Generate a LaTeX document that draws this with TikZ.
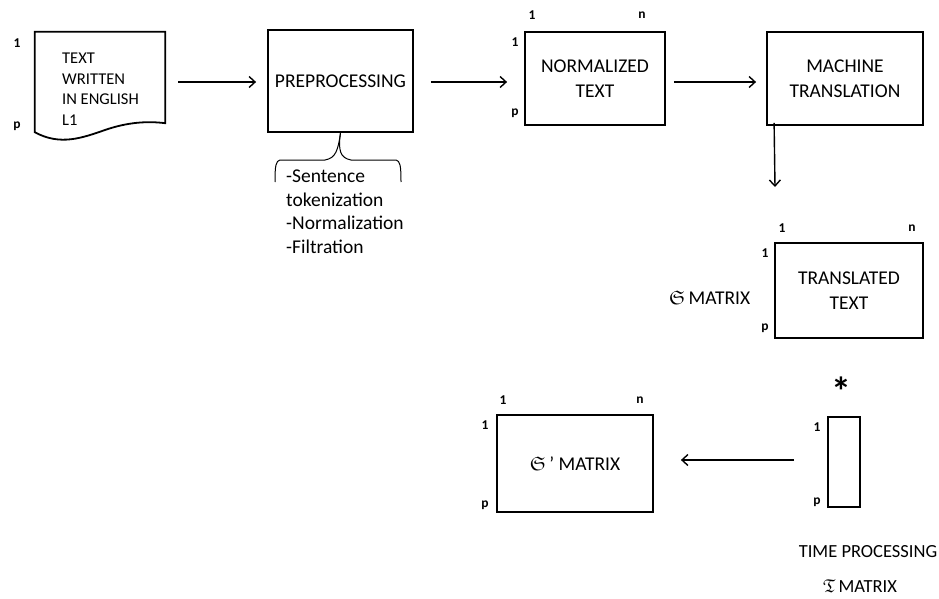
\documentclass[tikz,border=0pt]{standalone}
\usepackage{amssymb}
\usepackage{fontspec}
\setmainfont{Carlito}
\usetikzlibrary{arrows.meta}
\begin{document}
\begin{tikzpicture}[x=1pt,y=-1pt,
  box/.style={draw, line width=1.8pt, inner sep=0pt, align=center},
  arr/.style={-{Straight Barb[length=6pt,width=11pt,line width=1.4pt]}, line width=1.4pt},
  lbl/.style={font=\fontsize{13.5}{15}\bfseries\selectfont, inner sep=0pt},
  txt/.style={font=\fontsize{19.5}{25}\selectfont, inner sep=0pt, align=center}]
\useasboundingbox (0,0) rectangle (939,599);

% document shape
\node[minimum width=130pt, minimum height=108pt, inner sep=0pt] (doc) at (100,86) {};
\draw[line width=1.8pt] (doc.north west) -- (doc.north east) -- ([yshift=17pt]doc.south east)
  .. controls (148,121) and (128,122) .. (105,130)
  .. controls (82,138) and (60,146) .. ([yshift=8pt]doc.south west) -- cycle;
\node[txt, align=left, anchor=west, font=\fontsize{16.5}{20.5}\selectfont] (doctxt) at (62,89) {TEXT\\WRITTEN\\IN ENGLISH\\L1};
\node[lbl] (d1) at (17,43) {1};
\node[lbl] (dp) at (17,126) {p};

% preprocessing
\node[box, minimum width=145pt, minimum height=102pt, txt] (prep) at (340.5,81) {PREPROCESSING};
\draw[line width=1pt] (prep.south) .. controls (338,150) and (336,158) .. (325,160)
  -- (280,160) .. controls (276,161) and (275,165) .. (275,182);
\draw[line width=1pt] (prep.south) .. controls (338,150) and (340,158) .. (351,160)
  -- (396,160) .. controls (400,161) and (401,165) .. (401,182);
\node[txt, align=left, anchor=north west, font=\fontsize{19.5}{23.5}\selectfont] (list) at (286,170) {-Sentence\\tokenization\\-Normalization\\-Filtration};

% normalized text
\node[box, minimum width=140pt, minimum height=93pt, txt] (norm) at (595,78.5) {NORMALIZED\\TEXT};
\node[lbl] (n1) at (532,15) {1};
\node[lbl] (nn) at (642,15) {n};
\node[lbl] (nr1) at (515,42) {1};
\node[lbl] (nrp) at (515,113) {p};

% machine translation
\node[box, minimum width=156pt, minimum height=93pt, txt] (mt) at (845,78.5) {MACHINE\\TRANSLATION};

% translated text
\node[box, minimum width=148pt, minimum height=95pt, txt] (tt) at (849,290.5) {TRANSLATED\\TEXT};
\node[lbl] (t1) at (782,228) {1};
\node[lbl] (tn) at (912,228) {n};
\node[lbl] (tr1) at (765,253) {1};
\node[lbl] (trp) at (765,328) {p};
\node[txt, anchor=west] (smat) at (669,298) {$\mathfrak{S}$\,MATRIX};

% star and thin box
\node[inner sep=0pt, font=\fontsize{40}{40}\bfseries\selectfont] (star) at (841,391) {*};
\node[box, minimum width=32pt, minimum height=90pt] (tb) at (844,462) {};
\node[lbl] (tb1) at (817,427) {1};
\node[lbl] (tbp) at (817,502) {p};
\node[txt, font=\fontsize{18.5}{22}\selectfont] (tp) at (868,552) {TIME PROCESSING};
\node[txt, font=\fontsize{18.5}{22}\selectfont] (tm) at (860,586) {$\mathfrak{T}$\,MATRIX};

% S' matrix
\node[box, minimum width=156pt, minimum height=97pt, txt] (sp) at (575,463.5) {$\mathfrak{S}$\,\textquoteright\ MATRIX};
\node[lbl] (s1) at (503,400) {1};
\node[lbl] (sn) at (640,400) {n};
\node[lbl] (sr1) at (485,425) {1};
\node[lbl] (srp) at (485,505) {p};

% arrows
\draw[arr, shorten <=13pt, shorten >=11pt] (doc.east |- 0,82) -- (prep.west |- 0,82);
\draw[arr, shorten <=17pt, shorten >=17pt] (prep.east |- 0,82) -- (norm.west |- 0,82);
\draw[arr, shorten <=8pt, shorten >=10pt] (norm.east |- 0,82) -- (mt.west |- 0,82);
\coordinate (dend) at (775,187);
\draw[arr] ([xshift=8pt,yshift=3pt]mt.south west) -- (dend);
\draw[arr, shorten <=33pt, shorten >=27pt] (tb.west |- 0,460) -- (sp.east |- 0,460);
\end{tikzpicture}
\end{document}
